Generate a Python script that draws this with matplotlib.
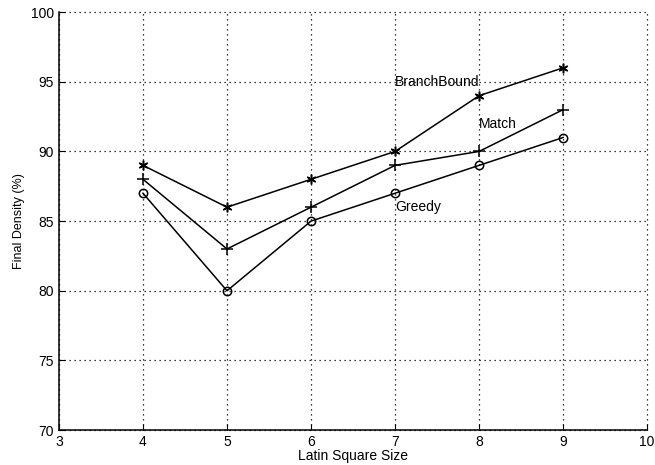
import matplotlib
matplotlib.use("Agg")
import matplotlib.pyplot as plt

sizes = [4, 5, 6, 7, 8, 9]
branchbound = [89, 86, 88, 90, 94, 96]
match = [88, 83, 86, 89, 90, 93]
greedy = [87, 80, 85, 87, 89, 91]
xticks = [3, 4, 5, 6, 7, 8, 9, 10]
yticks = [70, 75, 80, 85, 90, 95, 100]

plt.rcParams['font.family'] = ['Liberation Sans', 'DejaVu Sans']
fig = plt.figure(figsize=(6.55, 4.65), dpi=100)
ax = fig.add_axes([0.090, 0.075, 0.898, 0.899])

ax.plot(sizes, branchbound, color='black', lw=1.1, marker=(6, 2, 0), ms=7, mew=1.1)
ax.plot(sizes, match, color='black', lw=1.1, marker='+', ms=8, mew=1.1)
ax.plot(sizes, greedy, color='black', lw=1.1, marker='o', ms=6, mfc='none', mew=1.1)

ax.text(7.0, 95.0, 'BranchBound', fontsize=10, va='center', ha='left')
ax.text(8.0, 92.0, 'Match', fontsize=10, va='center', ha='left')
ax.text(7.0, 86.0, 'Greedy', fontsize=10, va='center', ha='left')

ax.set_xlim(3, 10)
ax.set_ylim(70, 100)
ax.set_xticks(xticks)
ax.set_yticks(yticks)
ax.tick_params(direction='in', labelsize=10, length=4)
ax.grid(True, linestyle=(0, (1, 3)), color='black', lw=0.9)
for gl in ax.get_xgridlines() + ax.get_ygridlines():
    gl.set_clip_on(False)
ax.spines['top'].set_visible(False)
ax.spines['right'].set_visible(False)
for s in ax.spines.values():
    s.set_linewidth(1.1)
ax.set_xlabel('Latin Square Size', fontsize=10, labelpad=0)
ax.set_ylabel('Final Density (%)', fontsize=9, labelpad=4)

fig.savefig('out.png', dpi=100)
